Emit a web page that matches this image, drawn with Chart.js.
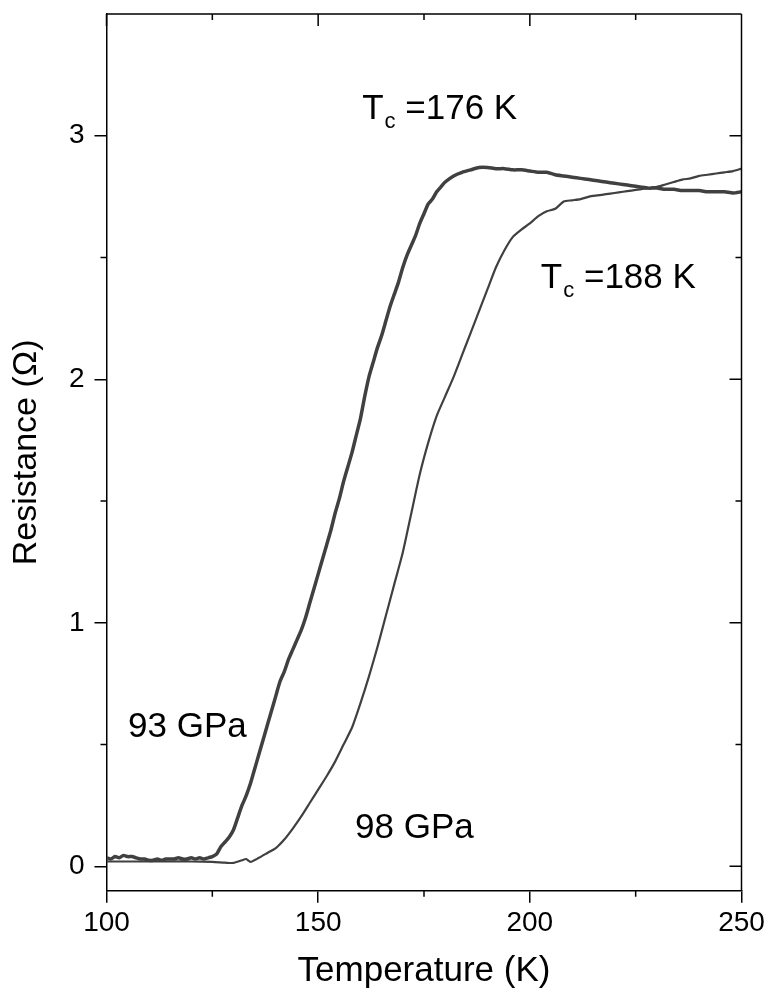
<!DOCTYPE html>
<html>
<head>
<meta charset="utf-8">
<script src="https://cdn.jsdelivr.net/npm/chart.js@4.4.0/dist/chart.umd.min.js"></script>
<style>
  html, body { margin: 0; padding: 0; background: #fff; }
</style>
</head>
<body>
<canvas id="myChart" width="770" height="997"></canvas>
<script>
// 93 GPa sample (thick curve)
const temp93 = [100, 101, 102, 103, 104, 105, 106, 107, 108, 109, 110, 111, 112, 113, 114, 115, 116, 117, 118, 119, 120, 121, 122, 123, 124, 125,
  126, 127, 128, 129, 130, 131, 132, 133, 134, 135, 136, 137, 138, 139, 140, 141, 142, 143, 144, 145, 146, 147, 148, 149,
  150, 151, 152, 153, 154, 155, 156, 157, 158, 159, 160, 161, 162, 163, 164, 165, 166, 167, 168, 169, 170, 171, 172, 173, 174, 175,
  176, 177, 178, 179, 180, 182, 184, 186, 188, 190, 192, 194, 196, 198, 200, 202, 204, 206, 208, 210, 212, 214, 216, 218, 220,
  222, 224, 226, 228, 230, 232, 234, 236, 238, 240, 242, 244, 246, 248, 250];
const res93 = [0.035, 0.03, 0.04, 0.035, 0.045, 0.04, 0.04, 0.035, 0.03, 0.03, 0.025, 0.025, 0.03, 0.025, 0.03, 0.03, 0.03, 0.035, 0.03, 0.03, 0.035, 0.03, 0.035, 0.03, 0.035, 0.04,
  0.05, 0.08, 0.10, 0.12, 0.15, 0.20, 0.25, 0.29, 0.34, 0.40, 0.46, 0.52, 0.58, 0.64, 0.70, 0.76, 0.80, 0.85, 0.89, 0.93, 0.97, 1.02, 1.08, 1.14,
  1.20, 1.26, 1.32, 1.38, 1.45, 1.51, 1.58, 1.64, 1.70, 1.77, 1.84, 1.93, 2.01, 2.07, 2.13, 2.18, 2.24, 2.30, 2.35, 2.40, 2.46, 2.51, 2.55, 2.59, 2.64, 2.68,
  2.72, 2.74, 2.77, 2.79, 2.81, 2.835, 2.85, 2.86, 2.87, 2.87, 2.865, 2.865, 2.86, 2.86, 2.855, 2.85, 2.85, 2.84, 2.835, 2.83, 2.825, 2.82, 2.815, 2.81, 2.805,
  2.80, 2.795, 2.79, 2.785, 2.785, 2.78, 2.78, 2.775, 2.775, 2.775, 2.77, 2.77, 2.77, 2.765, 2.77];

// 98 GPa sample (thin curve)
const temp98 = [100, 105, 110, 115, 120, 125, 128, 130, 132, 133, 134, 136, 138, 140, 142, 144, 146, 148, 150, 152, 154, 156, 158, 160,
  162, 164, 166, 168, 170, 172, 174, 176, 178, 180, 182, 184, 186, 188, 190, 192, 194, 196, 198, 200, 202, 204, 206, 208, 210,
  212, 214, 216, 218, 220, 222, 224, 226, 228, 230, 232, 234, 236, 238, 240, 242, 244, 246, 248, 250];
const res98 = [0.02, 0.02, 0.02, 0.02, 0.02, 0.018, 0.015, 0.014, 0.025, 0.03, 0.018, 0.035, 0.055, 0.075, 0.11, 0.155, 0.205, 0.26, 0.315, 0.37, 0.43, 0.50, 0.57, 0.67,
  0.78, 0.90, 1.03, 1.16, 1.29, 1.45, 1.61, 1.74, 1.85, 1.93, 2.01, 2.10, 2.19, 2.28, 2.37, 2.46, 2.53, 2.585, 2.615, 2.64, 2.67, 2.69, 2.70, 2.73, 2.735,
  2.74, 2.75, 2.755, 2.76, 2.765, 2.77, 2.775, 2.78, 2.785, 2.79, 2.80, 2.81, 2.82, 2.825, 2.835, 2.84, 2.845, 2.85, 2.855, 2.865];

const xTicks = [100, 150, 200, 250];
const xMinor = [125, 175, 225];
const yTicks = [0, 1, 2, 3];
const yMinor = [0.5, 1.5, 2.5];
const noteTexts = ["=176 K", "=188 K", "93 GPa", "98 GPa"];

const FONT = "'Liberation Sans', Arial, sans-serif";
const INK = "#404040";

function toPoints(xs, ys) {
  return xs.map((t, i) => ({ x: t, y: ys[i] }));
}

// frame, mirrored ticks, minor ticks and the text notes
const extras = {
  id: "extras",
  afterDraw(chart) {
    const { ctx, chartArea: a, scales } = chart;
    const x = scales.x, y = scales.y;
    ctx.save();
    ctx.strokeStyle = "#000";
    ctx.lineWidth = 1.5;
    ctx.beginPath();
    ctx.moveTo(a.left, a.top); ctx.lineTo(a.right, a.top);
    ctx.moveTo(a.right, a.top); ctx.lineTo(a.right, a.bottom);
    // top and right ticks point inwards
    xTicks.forEach(v => { const p = x.getPixelForValue(v); ctx.moveTo(p, a.top); ctx.lineTo(p, a.top + 12); });
    xMinor.forEach(v => { const p = x.getPixelForValue(v); ctx.moveTo(p, a.top); ctx.lineTo(p, a.top + 6); });
    yTicks.forEach(v => { const p = y.getPixelForValue(v); ctx.moveTo(a.right, p); ctx.lineTo(a.right - 12, p); });
    yMinor.forEach(v => { const p = y.getPixelForValue(v); ctx.moveTo(a.right, p); ctx.lineTo(a.right - 6, p); });
    // minor ticks outside on bottom and left
    xMinor.forEach(v => { const p = x.getPixelForValue(v); ctx.moveTo(p, a.bottom); ctx.lineTo(p, a.bottom + 6); });
    yMinor.forEach(v => { const p = y.getPixelForValue(v); ctx.moveTo(a.left, p); ctx.lineTo(a.left - 6, p); });
    ctx.stroke();

    ctx.fillStyle = "#000";
    ctx.textBaseline = "alphabetic";
    ctx.textAlign = "left";
    const big = "35px " + FONT, small = "22px " + FONT;
    function tc(px, py, rest) {
      ctx.font = big;
      ctx.fillText("T", px, py);
      let cx = px + ctx.measureText("T").width + 1;
      ctx.font = small;
      ctx.fillText("c", cx, py + 9);
      cx += ctx.measureText("c").width;
      ctx.font = big;
      ctx.fillText(" " + rest, cx, py);
    }
    tc(x.getPixelForValue(160.4), y.getPixelForValue(3.07), noteTexts[0]);
    tc(x.getPixelForValue(202.6), y.getPixelForValue(2.375), noteTexts[1]);
    ctx.font = big;
    ctx.fillText(noteTexts[2], x.getPixelForValue(105.1), y.getPixelForValue(0.532));
    ctx.fillText(noteTexts[3], x.getPixelForValue(158.7), y.getPixelForValue(0.118));
    ctx.restore();
  }
};

const ctx = document.getElementById("myChart");

new Chart(ctx, {
  type: "line",
  data: {
    datasets: [
      {
        label: "93 GPa",
        data: toPoints(temp93, res93),
        borderColor: INK,
        borderWidth: 3.5,
        pointRadius: 0,
        tension: 0.2,
      },
      {
        label: "98 GPa",
        data: toPoints(temp98, res98),
        borderColor: INK,
        borderWidth: 2.2,
        pointRadius: 0,
        tension: 0.2,
      },
    ],
  },
  options: {
    responsive: false,
    animation: false,
    devicePixelRatio: 1,
    layout: { padding: { top: 14, right: 28.5, left: 0, bottom: 0 } },
    plugins: {
      legend: { display: false },
      tooltip: { enabled: false },
    },
    scales: {
      x: {
        type: "linear",
        min: 100,
        max: 250,
        afterBuildTicks: s => { s.ticks = xTicks.map(v => ({ value: v })); },
        afterFit: s => { s.height = 106.3; s.paddingLeft = 0; s.paddingRight = 0; },
        ticks: { color: "#000", font: { family: FONT, size: 28 }, padding: 4, maxRotation: 0, autoSkip: false },
        grid: { drawOnChartArea: false, drawTicks: true, tickLength: 12, color: "#000", lineWidth: 1.5 },
        border: { display: true, color: "#000", width: 1.5 },
        title: { display: true, text: "Temperature (K)", color: "#000", font: { family: FONT, size: 35 }, padding: { top: 0, bottom: 5 } },
      },
      y: {
        type: "linear",
        min: -0.1,
        max: 3.5,
        afterBuildTicks: s => { s.ticks = yTicks.map(v => ({ value: v })); },
        afterFit: s => { s.width = 106.5; s.paddingTop = 0; s.paddingBottom = 0; },
        ticks: { color: "#000", font: { family: FONT, size: 28 }, padding: 10 },
        grid: { drawOnChartArea: false, drawTicks: true, tickLength: 12, color: "#000", lineWidth: 1.5 },
        border: { display: true, color: "#000", width: 1.5 },
        title: { display: true, text: "Resistance (Ω)", color: "#000", font: { family: FONT, size: 34 }, padding: { top: 6, bottom: 0 } },
      },
    },
  },
  plugins: [extras],
});
</script>
</body>
</html>
